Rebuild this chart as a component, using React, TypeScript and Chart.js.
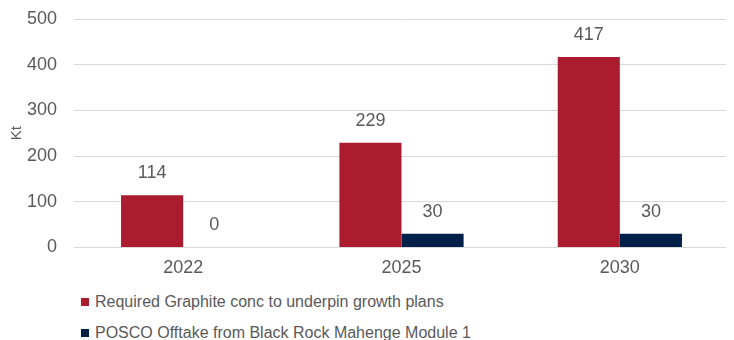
import React, { useEffect, useRef } from "react";
import { Chart, registerables } from "chart.js";

Chart.register(...registerables);

const categories = ["2022", "2025", "2030"];
const requiredGraphite = [114, 229, 417];
const poscoOfftake = [0, 30, 30];
const seriesNames = [
  "Required Graphite conc to underpin growth plans",
  "POSCO Offtake from Black Rock Mahenge Module 1",
];
const seriesColors = ["#AB1C2F", "#00204A"];
const yTicks = [0, 100, 200, 300, 400, 500];

const FONT = "'Liberation Sans', Arial, sans-serif";
const TEXT = "#595959";

const valueLabels = {
  id: "valueLabels",
  afterDatasetsDraw(chart: any) {
    const ctx = chart.ctx;
    ctx.save();
    ctx.font = `18px ${FONT}`;
    ctx.fillStyle = TEXT;
    ctx.textAlign = "center";
    ctx.textBaseline = "middle";
    chart.data.datasets.forEach((ds: any, i: number) => {
      const meta = chart.getDatasetMeta(i);
      meta.data.forEach((bar: any, j: number) => {
        ctx.fillText(String(ds.data[j]), bar.x, bar.y - 22);
      });
    });
    ctx.restore();
  },
};

export default function App() {
  const ref = useRef<HTMLCanvasElement | null>(null);
  useEffect(() => {
    if (!ref.current) return;
    const chart = new Chart(ref.current, {
      type: "bar",
      data: {
        labels: categories,
        datasets: [
          { label: seriesNames[0], data: requiredGraphite, backgroundColor: seriesColors[0] },
          { label: seriesNames[1], data: poscoOfftake, backgroundColor: seriesColors[1] },
        ],
      },
      options: {
        animation: false,
        responsive: true,
        maintainAspectRatio: false,
        layout: { padding: { top: 11, right: 0, left: 0, bottom: 0 } },
        datasets: { bar: { barPercentage: 1, categoryPercentage: 0.569 } },
        plugins: { legend: { display: false }, tooltip: { enabled: false } },
        scales: {
          x: {
            grid: { display: false, drawTicks: false },
            border: { display: false },
            ticks: { color: TEXT, font: { family: FONT, size: 18 }, padding: 10 },
            afterFit: (axis: any) => {
              axis.paddingLeft = 0;
              axis.paddingRight = 0;
            },
          },
          y: {
            min: 0,
            max: 500,
            afterBuildTicks: (axis: any) => {
              axis.ticks = yTicks.map((v) => ({ value: v }));
            },
            afterFit: (axis: any) => {
              axis.width = 66;
              axis.paddingTop = 0;
              axis.paddingBottom = 0;
            },
            grid: { color: "#D9D9D9", lineWidth: 1, drawTicks: false },
            border: { display: false },
            ticks: { color: TEXT, font: { family: FONT, size: 18 }, padding: 17 },
            title: {
              display: true,
              text: "Kt",
              color: TEXT,
              font: { family: FONT, size: 15 },
              padding: { top: 0, bottom: 1 },
            },
          },
        },
      },
      plugins: [valueLabels],
    });
    return () => chart.destroy();
  }, []);

  return (
    <div style={{ width: 721, fontFamily: FONT }}>
      <div style={{ position: "relative", width: 721, height: 281 }}>
        <canvas ref={ref} />
      </div>
      <div style={{ paddingLeft: 73, marginTop: -3 }}>
        {seriesNames.map((name, i) => (
          <div
            key={name}
            style={{ display: "flex", alignItems: "center", height: 31, fontSize: 16, color: TEXT }}
          >
            <span
              style={{ display: "inline-block", width: 8, height: 8, background: seriesColors[i], marginRight: 6 }}
            />
            <span>{name}</span>
          </div>
        ))}
      </div>
    </div>
  );
}
